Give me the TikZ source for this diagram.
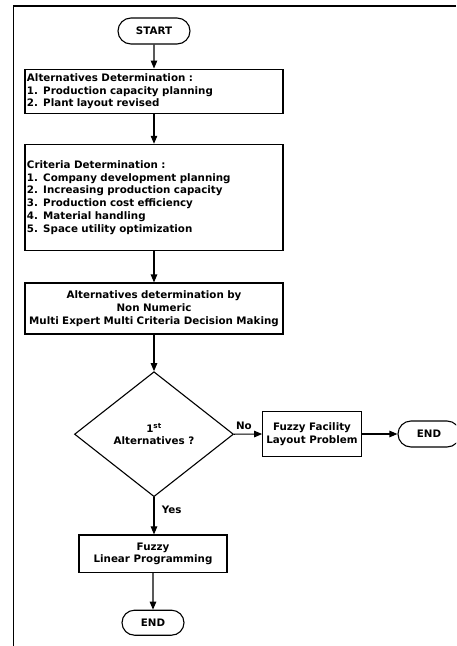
\documentclass[tikz,border=0pt]{standalone}
\usepackage{fontspec}
\setmainfont{DejaVu Sans}
\usetikzlibrary{shapes.geometric,shapes.misc}
\usetikzlibrary{arrows.meta}

\begin{document}
\begin{tikzpicture}[x=1pt,y=-1pt,
  every node/.style={font=\fontsize{10.3}{12.8}\selectfont\bfseries},
  term/.style={draw,rounded rectangle,line width=1.1pt,minimum width=72pt,minimum height=26pt,inner sep=0pt},
  listbox/.style={draw,rectangle,line width=1.1pt,text width=254pt,inner xsep=2pt,inner ysep=0pt},
  procbox/.style={draw,rectangle,line width=1.1pt,align=center,inner sep=0pt},
  decision/.style={draw,diamond,line width=1.1pt,aspect=1,inner sep=0pt,minimum width=159pt,minimum height=125pt,align=center},
  flow/.style={-{Triangle[length=8pt,width=6.5pt]},line width=1.1pt}]

\clip (0,0) rectangle (456,646);

% frame
\draw[line width=1.6pt] (456,5.7) -- (13.3,5.7) -- (13.3,646);

\node[term] (start) at (154,31) {START};

\node[listbox,align=left,minimum height=44.3pt] (alt) at (154,91.2)
  {Alternatives Determination :\\1. Production capacity planning\\2. Plant layout revised};

\node[listbox,align=left,minimum height=106.4pt] (crit) at (154,197.5)
  {Criteria Determination :\\1. Company development planning\\2. Increasing production capacity\\3. Production cost efficiency\\4. Material handling\\5. Space utility optimization};

\node[listbox,align=center,minimum height=51pt] (nnm) at (154,308.5)
  {Alternatives determination by\\Non Numeric\\Multi Expert Multi Criteria Decision Making};

\node[decision] (first) at (154,434.2) {1\textsuperscript{st}\\Alternatives ?};

\node[procbox,minimum width=98.6pt,minimum height=44.6pt] (ffl) at (312,434)
  {Fuzzy Facility\\Layout Problem};
\node[term,minimum width=62pt] (endr) at (429,434) {END};

\node[procbox,minimum width=148pt,minimum height=37.7pt] (flp) at (153,553.8)
  {Fuzzy\\Linear Programming};
\node[term,minimum width=62pt,minimum height=25pt] (endb) at (153,622.7) {END};

\draw[flow] (start) -- (alt);
\draw[flow] (alt) -- (crit);
\draw[flow] (crit) -- (nnm);
\draw[flow] (nnm) -- (first);
\draw[flow] (first.east) -- node[pos=0.35,above=1pt] (no) {No} (ffl.west);
\draw[flow] (ffl) -- (endr);
\draw[flow] (first.south) -- node[pos=0.35,right=4pt] (yes) {Yes} (first.south |- flp.north);
\draw[flow] (flp) -- (endb);

\end{tikzpicture}
\end{document}
